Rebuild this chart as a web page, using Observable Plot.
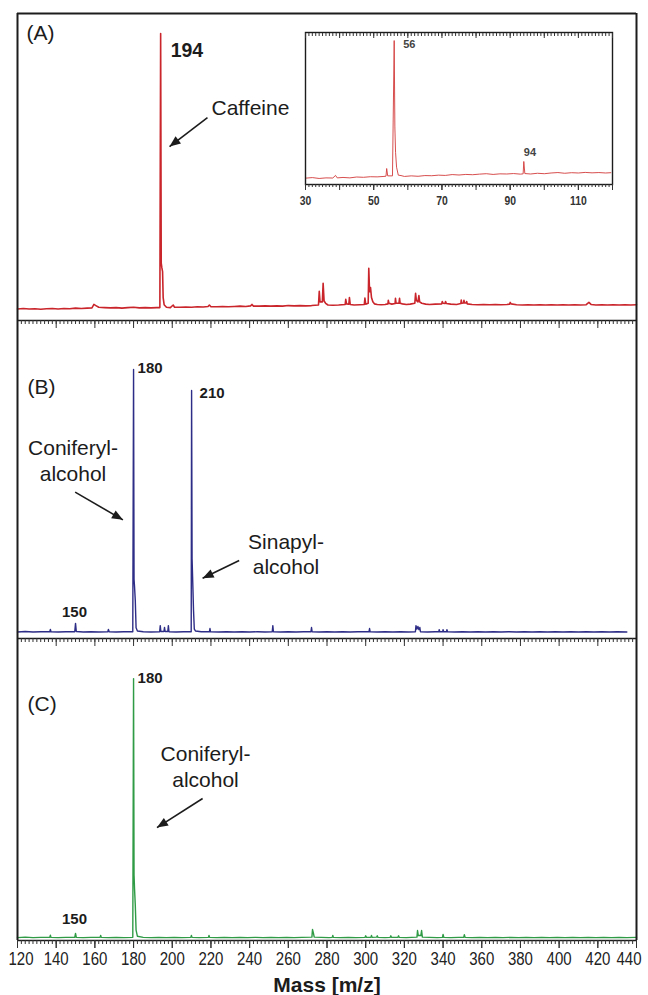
<!DOCTYPE html>
<html><head><meta charset="utf-8">
<script src="https://cdn.jsdelivr.net/npm/d3@7"></script>
<script src="https://cdn.jsdelivr.net/npm/@observablehq/plot@0.6"></script>
<style>
body{margin:0;background:#fff;}
#fig{position:relative;width:648px;height:995px;overflow:hidden;background:#fff;}
#fig svg{position:absolute;left:0;}
</style></head><body><div id="fig"></div>
<script>
// ---------- axis values ----------
const xDomain = [120, 440];
const minorTicks = d3.range(120, 441, 2);
const majorTicks = [120,140,160,180,200,220,240,260,280,300,320,340,360,380,400,420,440];
const innerTickLabels = [140,160,180,200,220,240,260,280,300,320,340,360,380,400,420];
const firstTickLabel = [120];
const lastTickLabel = [440];
const insetDomain = [30, 120];
const insetMinor = d3.range(30, 121, 1);
const insetMajor = [30,40,50,60,70,80,90,100,110,120];
const insetLabels = [30, 50, 70, 90, 110];

// ---------- spectra [m/z, relative intensity] ----------
const specA = [[120,4.0],[123,4.2],[126,4.0],[129,4.1],[132,3.9],[135,4.1],[138,4.2],[141,4.0],[144,4.2],[147,4.1],[150,4.3],[153,4.2],[156,4.3],[158.5,4.4],[159.5,5.6],[160.5,5.2],[162,4.6],[165,4.5],[168,4.4],[171,4.5],[174,4.3],[177,4.5],[180,4.6],[183,4.4],[186,4.5],[189,4.4],[192,4.5],[193.6,4.5],[194,100],[194.3,20],[194.6,18.5],[195,17],[195.3,8],[195.8,5.5],[197,4.6],[199,4.5],[200.5,5.4],[201.2,4.6],[204,4.6],[207,4.7],[210,4.6],[213,4.8],[216,4.7],[218.5,4.9],[219.2,5.4],[220,4.8],[223,4.8],[226,4.9],[229,4.8],[232,4.9],[235,5.0],[238,4.9],[240.5,5.1],[241.2,5.6],[242,5.0],[245,5.0],[248,5.1],[251,5.0],[254,5.1],[257,5.0],[260,5.2],[263,5.1],[266,5.2],[269,5.1],[272,5.2],[275.6,5.4],[276,10.2],[276.4,6.5],[277.6,6.5],[278,13.0],[278.5,6.8],[279.3,6.0],[280.5,5.4],[283,5.3],[286,5.4],[289.4,5.6],[289.7,7.4],[290.1,5.8],[291.3,5.7],[291.6,8.0],[292,5.6],[294,5.4],[297,5.5],[299.3,5.6],[299.6,7.8],[300,5.7],[301.3,6.0],[301.6,18.2],[302,10],[302.5,11.5],[303,8],[303.7,6.5],[304.5,5.8],[306,5.6],[308,5.5],[310,5.6],[311.5,5.8],[311.7,7.0],[312,6.0],[313.5,5.7],[315.2,5.9],[315.4,7.7],[315.7,6.0],[317.2,6.0],[317.5,7.7],[317.8,6.0],[319,5.8],[321,5.6],[323,5.7],[325.4,6.0],[325.8,9.5],[326.2,7.0],[327,6.5],[327.5,8.7],[327.9,6.5],[329,6.0],[331,5.7],[333,5.6],[336,5.7],[339.3,5.8],[339.6,6.6],[340,6.0],[341,5.9],[341.3,6.6],[341.7,5.9],[344,5.7],[347,5.6],[349.2,5.9],[349.4,7.1],[349.7,6.0],[350.6,6.1],[350.8,7.0],[351.1,6.1],[352,6.1],[352.2,6.6],[352.5,5.8],[355,5.6],[358,5.5],[361,5.6],[364,5.5],[367,5.6],[370,5.5],[373,5.6],[374.4,5.7],[374.7,6.3],[375.2,5.8],[378,5.5],[381,5.4],[384,5.5],[387,5.4],[390,5.5],[393,5.4],[396,5.5],[399,5.4],[402,5.5],[405,5.4],[408,5.5],[411,5.4],[414,5.5],[415.4,6.3],[416.5,5.6],[419,5.4],[422,5.5],[425,5.4],[428,5.5],[431,5.4],[434,5.5],[437,5.4],[440,5.5]];

const specB = [[120,2.4],[124,2.6],[128,2.4],[132,2.5],[136.7,2.5],[137,3.4],[137.3,2.5],[141,2.4],[145,2.5],[149.6,2.5],[150,5.6],[150.4,2.6],[154,2.4],[158,2.5],[162,2.4],[166.7,2.5],[167,3.4],[167.4,2.5],[171,2.4],[175,2.5],[179.6,2.5],[180,100],[180.25,22],[180.5,19.3],[180.9,14],[181.3,4],[182,2.8],[185,2.5],[189,2.4],[193.5,2.5],[193.8,4.8],[194.1,2.6],[195.7,2.6],[196,4.1],[196.3,2.6],[197.7,2.6],[198,4.8],[198.3,2.5],[202,2.4],[206,2.5],[209.8,2.5],[210,92.2],[210.25,29.7],[210.6,20.8],[211,10.4],[211.4,3.5],[212,2.8],[215,2.5],[219.2,2.5],[219.5,3.7],[219.8,2.5],[224,2.4],[228,2.5],[232,2.4],[236,2.5],[240,2.4],[244,2.5],[248,2.4],[251.7,2.5],[252,4.8],[252.3,2.5],[256,2.4],[260,2.5],[264,2.4],[268,2.5],[271.7,2.5],[272,4.1],[272.3,2.5],[276,2.4],[280,2.5],[284,2.4],[288,2.5],[292,2.4],[296,2.5],[301.7,2.5],[302,3.7],[302.3,2.5],[306,2.4],[310,2.5],[314,2.4],[318,2.5],[322,2.4],[325.7,2.5],[326,4.8],[326.5,3.5],[327,4.5],[327.5,3.3],[328,4.1],[328.3,2.5],[332,2.4],[336,2.5],[337.8,2.5],[338,3.3],[338.3,2.5],[339.8,2.5],[340,3.3],[340.3,2.5],[341.8,2.5],[342,3.3],[342.3,2.5],[346,2.4],[350,2.5],[354,2.4],[358,2.5],[362,2.4],[366,2.5],[370,2.4],[374,2.5],[378,2.4],[382,2.5],[386,2.4],[390,2.5],[394,2.4],[398,2.5],[402,2.4],[406,2.5],[410,2.4],[414,2.5],[418,2.4],[422,2.5],[426,2.4],[430,2.5],[435,2.4]];

const specC = [[120,1.1],[124,1.3],[128,1.1],[132,1.2],[136.7,1.2],[137,2.0],[137.3,1.2],[141,1.1],[145,1.2],[149.6,1.2],[150,2.7],[150.4,1.2],[154,1.1],[158,1.2],[162.7,1.2],[163,1.9],[163.3,1.2],[167,1.1],[171,1.2],[175,1.1],[179.6,1.2],[180,100],[180.25,25],[180.5,19.8],[180.9,13.4],[181.3,4],[182,1.6],[185,1.2],[189,1.1],[193,1.2],[197,1.1],[201,1.2],[205,1.1],[209.6,1.2],[209.9,1.9],[210.2,1.2],[214,1.1],[218.7,1.2],[219,1.9],[219.3,1.2],[223,1.1],[227,1.2],[231,1.1],[235,1.2],[239,1.1],[243,1.2],[247,1.1],[251,1.2],[255,1.1],[259,1.2],[263,1.1],[267,1.2],[272.2,1.3],[272.5,4.2],[273,2.7],[273.4,1.3],[277,1.2],[281,1.1],[282.7,1.2],[283,1.9],[283.3,1.2],[287,1.1],[291,1.2],[295,1.1],[299.7,1.2],[300,1.8],[300.4,1.2],[302.7,1.2],[303,1.9],[303.3,1.2],[305.7,1.3],[306,1.8],[306.3,1.2],[310,1.1],[312.7,1.2],[313,1.8],[313.3,1.2],[316.7,1.2],[317,1.8],[317.3,1.2],[321,1.1],[326.5,1.3],[326.8,3.8],[327.2,1.9],[328.5,1.9],[328.9,3.8],[329.3,1.3],[333,1.2],[337,1.1],[339.7,1.2],[340,2.3],[340.4,1.2],[344,1.1],[348,1.2],[350.7,1.2],[351,2.2],[351.4,1.2],[355,1.1],[359,1.2],[363,1.1],[367,1.2],[371,1.1],[375,1.2],[379,1.1],[383,1.2],[387,1.1],[391,1.2],[395,1.1],[399,1.2],[403,1.1],[407,1.2],[411,1.1],[415,1.2],[419,1.1],[423,1.2],[427,1.1],[431,1.2],[435,1.1],[440,1.2]];

const specInset = [[30,4.4],[32,4.8],[34,4.2],[36,4.6],[38,4.5],[38.8,6.3],[39.3,4.6],[41,4.9],[43,4.6],[45,5.2],[47,5.0],[49,5.4],[51,5.3],[53,5.6],[53.6,5.8],[53.8,11.1],[54.1,6.0],[55.5,6.0],[56,100],[56.2,40],[56.4,22.4],[56.7,12],[57.2,6.5],[58,6.2],[59,5.6],[61,6.0],[63,5.7],[65,6.2],[67,6.1],[69,6.5],[71,6.3],[73,6.9],[75,6.6],[77,7.0],[79,6.8],[81,7.2],[83,7.5],[85,7.0],[87,7.4],[89,7.3],[91,7.6],[93,7.2],[93.8,7.4],[94,16],[94.3,7.6],[96,7.3],[98,7.8],[100,7.5],[102,8.0],[104,8.3],[106,7.8],[108,8.2],[110,8.0],[112,8.4],[114,8.1],[116,8.3],[118,8.0],[119.5,8.2]];

// ---------- annotations (data coordinates) ----------
const panelTags = {A: [124.7, 102.8, "(A)"], B: [125.2, 96.3, "(B)"], C: [125.2, 93.5, "(C)"]};
const peakA = [[194, 100, "194"]];
const peakB180 = [[180, 100, "180"]];
const peakB210 = [[210, 92.2, "210"]];
const peakB150 = [[150, 5.6, "150"]];
const peakC180 = [[180, 100, "180"]];
const peakC150 = [[150, 2.7, "150"]];
const peakInset56 = [[56, 100, "56"]];
const peakInset94 = [[94, 16, "94"]];
const namesA = [[220.3, 77.7, "Caffeine"]];
const namesB = [[148.7, 74.7, "Coniferyl-\nalcohol"], [258.8, 40.1, "Sinapyl-\nalcohol"]];
const namesC = [[217.2, 75.2, "Coniferyl-\nalcohol"]];
const arrowsA = [[218.2, 70.7, 198.6, 60.6]];
const arrowsB = [[149.8, 54.4, 174.5, 44.1], [234.6, 29.0, 215.7, 22.4]];
const arrowsC = [[215.7, 54.2, 192.1, 43.1]];

// ---------- drawing ----------
const fig = document.getElementById("fig");
const SANS = "'Liberation Sans', Arial, Helvetica, sans-serif";
const INK = "#1c1c1c";
const SVGNS = "http://www.w3.org/2000/svg";

// solid triangular arrow head
function solidHead(color, context) {
  const doc = (context && context.document) || document;
  const m = doc.createElementNS(SVGNS, "marker");
  m.setAttribute("viewBox", "-12 -6 13 12");
  m.setAttribute("markerWidth", "13");
  m.setAttribute("markerHeight", "12");
  m.setAttribute("markerUnits", "userSpaceOnUse");
  m.setAttribute("orient", "auto");
  m.setAttribute("refX", "0");
  m.setAttribute("refY", "0");
  const path = doc.createElementNS(SVGNS, "path");
  path.setAttribute("d", "M-11,-4.5L0,0L-11,4.5Z");
  path.setAttribute("fill", color);
  path.setAttribute("stroke", "none");
  m.appendChild(path);
  return m;
}

// condensed look for the numeric tick labels: squeeze horizontally around each label's own anchor
function condense(svg, fontSize, k) {
  svg.querySelectorAll("text").forEach(t => {
    const g = t.closest("[font-size]");
    const fs = g ? parseFloat(g.getAttribute("font-size")) : NaN;
    if (fs === fontSize && /^\d+$/.test(t.textContent.trim())) {
      const ax = parseFloat(t.getAttribute("x")) || 0;
      const tr = t.getAttribute("transform") || "";
      t.setAttribute("transform", `${tr} translate(${ax},0) scale(${k},1) translate(${-ax},0)`);
    }
  });
}

function peakLabel(data, size, dx, dy, anchor = "start", fill = INK) {
  return Plot.text(data, {x: d => d[0], y: d => d[1], text: d => d[2], dx, dy,
    textAnchor: anchor, lineAnchor: "top", fontSize: size, fontWeight: "bold", fill, fontFamily: SANS});
}
function names(data, anchor = "middle") {
  return Plot.text(data, {x: d => d[0], y: d => d[1], text: d => d[2], textAnchor: anchor,
    lineAnchor: "top", lineHeight: 1.2, fontSize: 21, fill: INK, fontFamily: SANS});
}
function arrows(data) {
  return Plot.link(data, {x1: d => d[0], y1: d => d[1], x2: d => d[2], y2: d => d[3],
    stroke: INK, strokeWidth: 1.6, markerEnd: solidHead});
}
function tag(t) {
  return Plot.text([t], {x: d => d[0], y: d => d[1], text: d => d[2], textAnchor: "start",
    lineAnchor: "top", fontSize: 21, fill: INK, fontFamily: SANS});
}

function panel({spec, color, sw, yMax, height, marginTop, marginBottom, top, extra, frameTop}) {
  const p = Plot.plot({
    width: 648, height, marginLeft: 17, marginRight: 12, marginTop, marginBottom,
    x: {domain: xDomain, axis: null},
    y: {domain: [0, yMax], axis: null},
    style: {background: "transparent", overflow: "visible", fontFamily: SANS},
    marks: [
      Plot.line(spec, {x: d => d[0], y: d => d[1], stroke: color, strokeWidth: sw, strokeLinejoin: "round"}),
      Plot.ruleX(xDomain, {stroke: INK, strokeWidth: 2}),
      frameTop ? Plot.ruleY([yMax], {stroke: INK, strokeWidth: 2}) : null,
      Plot.ruleY([0], {stroke: INK, strokeWidth: 1.5}),
      Plot.axisX({ticks: minorTicks, tickSize: 4, tickFormat: () => "", stroke: "#333", label: null}),
      Plot.axisX({ticks: majorTicks, tickSize: 8, tickFormat: () => "", stroke: "#333", label: null}),
      ...extra
    ]
  });
  p.style.top = top + "px";
  fig.append(p);
  return p;
}

// Panel A
panel({spec: specA, color: "#c9252b", sw: 1.6, yMax: 106.97, height: 335, marginTop: 13, marginBottom: 15, top: 0, frameTop: true,
  extra: [tag(panelTags.A), peakLabel(peakA, 19.5, 10, 10), names(namesA, "start"), arrows(arrowsA)]});

// Inset
{
  const p = Plot.plot({
    width: 320, height: 190, marginLeft: 5, marginRight: 8, marginTop: 7, marginBottom: 31,
    x: {domain: insetDomain, axis: null},
    y: {domain: [0, 105.6], axis: null},
    style: {background: "transparent", overflow: "visible", fontFamily: SANS},
    marks: [
      Plot.line(specInset, {x: d => d[0], y: d => d[1], stroke: "#d23a3a", strokeWidth: 0.9}),
      Plot.frame({stroke: INK, strokeWidth: 1.4}),
      Plot.axisX({ticks: insetMinor, tickSize: 3, tickFormat: () => "", stroke: "#333", label: null}),
      Plot.axisX({ticks: insetMajor, tickSize: 6, tickFormat: () => "", stroke: "#333", label: null}),
      Plot.axisX({ticks: insetLabels, tickSize: 6, tickPadding: 5, stroke: "#333", label: null,
        fontSize: 13, fontWeight: "bold", fontFamily: SANS, fill: "#333"}),
      Plot.axisX({anchor: "top", ticks: insetMinor, tickSize: 3, dy: 3, tickFormat: () => "", stroke: "#333", label: null}),
      Plot.axisX({anchor: "top", ticks: insetMajor, tickSize: 5, dy: 5, tickFormat: () => "", stroke: "#333", label: null}),
      peakLabel(peakInset56, 11, 9, 0, "start", "#444"),
      peakLabel(peakInset94, 11, 0, -13, "start", "#444")
    ]
  });
  p.style.left = "300px";
  p.style.top = "25px";
  fig.append(p);
  condense(p, 13, 0.8);
}

// Panel B
panel({spec: specB, color: "#2d2c86", sw: 1.4, yMax: 118.2, height: 333, marginTop: 0, marginBottom: 15, top: 320,
  extra: [tag(panelTags.B), peakLabel(peakB180, 15, 4, -7), peakLabel(peakB210, 15, 8, -3),
    peakLabel(peakB150, 15, -1, -17, "middle"), names(namesB), arrows(arrowsB)]});

// Panel C (with labelled axis)
const TICKFONT = 19;
const pC = panel({spec: specC, color: "#2f9b45", sw: 1.4, yMax: 115.3, height: 357, marginTop: 0, marginBottom: 55, top: 638,
  extra: [tag(panelTags.C), peakLabel(peakC180, 15, 4, -6), peakLabel(peakC150, 15, -1, -20, "middle"),
    names(namesC), arrows(arrowsC),
    Plot.axisX({ticks: innerTickLabels, tickSize: 8, tickPadding: 3, stroke: "#333", label: null,
      fontSize: TICKFONT, fontFamily: SANS, fill: "#222"}),
    Plot.text(firstTickLabel, {x: d => d, frameAnchor: "bottom", text: d => String(d), textAnchor: "start", dx: -9, dy: 11,
      lineAnchor: "top", fontSize: TICKFONT, fontFamily: SANS, fill: "#222"}),
    Plot.text(lastTickLabel, {x: d => d, frameAnchor: "bottom", text: d => String(d), textAnchor: "end", dx: 5, dy: 11,
      lineAnchor: "top", fontSize: TICKFONT, fontFamily: SANS, fill: "#222"}),
    Plot.text(["Mass [m/z]"], {frameAnchor: "bottom", text: d => d, dy: 51, lineAnchor: "bottom",
      fontSize: 21, fontWeight: "bold", fill: INK, fontFamily: SANS})
  ]});
condense(pC, TICKFONT, 0.79);
</script></body></html>
